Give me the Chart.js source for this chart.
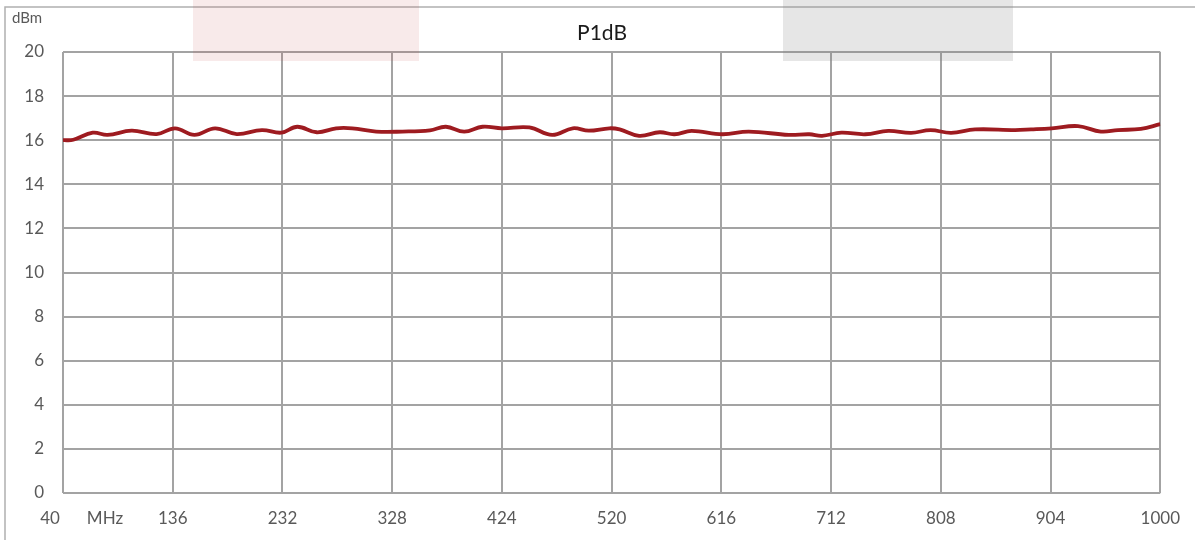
<!DOCTYPE html>
<html>
<head>
<meta charset="utf-8">
<script src="https://cdn.jsdelivr.net/npm/chart.js@4.4.0/dist/chart.umd.min.js"></script>
<style>
  html, body { margin: 0; padding: 0; background: #fff; }
  #wrap { width: 1195px; height: 540px; position: relative; }
</style>
</head>
<body>
<div id="wrap"><canvas id="chart" width="1195" height="540"></canvas></div>
<script>
// frecuencias (MHz) y P1dB (dBm)
const freqs = [40, 49, 66, 79, 100, 122, 138, 155, 173, 192, 214, 231, 245, 262, 279, 293,
  314, 337, 361, 375, 391, 407, 424, 448, 468, 486, 500, 518, 527, 544, 562, 575, 590,
  617, 640, 675, 693, 704, 721, 742, 762, 782, 799, 817, 838, 873, 887, 905, 928, 948,
  963, 983, 1000];
const p1db = [16.0, 16.02, 16.34, 16.24, 16.43, 16.28, 16.54, 16.24, 16.54, 16.28, 16.46, 16.34,
  16.61, 16.36, 16.54, 16.54, 16.39, 16.39, 16.45, 16.61, 16.39, 16.61, 16.54, 16.58, 16.24,
  16.54, 16.43, 16.54, 16.49, 16.2, 16.36, 16.27, 16.42, 16.27, 16.39, 16.24, 16.27, 16.2,
  16.34, 16.27, 16.42, 16.33, 16.46, 16.33, 16.49, 16.46, 16.49, 16.54, 16.64, 16.39, 16.46,
  16.51, 16.73];
const xTicks = [40, 136, 232, 328, 424, 520, 616, 712, 808, 904, 1000];

const FONT = "Lato, 'Open Sans', sans-serif";
const GRIS = "#595959";

const extras = {
  id: "extras",
  beforeDraw(chart) {
    const c = chart.ctx;
    c.save();
    c.strokeStyle = "#b0b0b0";
    c.lineWidth = 1.5;
    c.strokeRect(5, 7, 1200, 545);
    c.restore();
  },
  afterDraw(chart) {
    const c = chart.ctx;
    c.save();
    c.fillStyle = GRIS;
    c.font = "17px " + FONT;
    c.textBaseline = "middle";
    c.textAlign = "center";
    c.fillText("40", 50, 519);
    c.fillText("MHz", 105, 519);
    c.font = "15px " + FONT;
    c.textAlign = "left";
    c.fillText("dBm", 12, 18);
    // titulo
    c.fillStyle = "#1a1a1a";
    c.font = "21px " + FONT;
    c.textAlign = "center";
    c.fillText("P1dB", 602, 33);
    // recuadros claros de la parte superior
    c.fillStyle = "rgba(190,60,60,0.11)";
    c.fillRect(193, 0, 226, 61);
    c.fillStyle = "rgba(128,128,128,0.2)";
    c.fillRect(783, 0, 230, 61);
    c.restore();
  }
};

const ctx = document.getElementById("chart").getContext("2d");
new Chart(ctx, {
  type: "line",
  data: {
    datasets: [{
      label: "P1dB",
      data: freqs.map((f, i) => ({ x: f, y: p1db[i] })),
      borderColor: "#9e1b20",
      borderWidth: 3.8,
      pointRadius: 0,
      tension: 0.4,
      fill: false
    }]
  },
  options: {
    responsive: false,
    animation: false,
    layout: { padding: { left: 0, right: 30, top: 52, bottom: 0 } },
    plugins: {
      legend: { display: false },
      tooltip: { enabled: false },
      title: { display: false }
    },
    scales: {
      x: {
        type: "linear",
        min: 40,
        max: 1000,
        afterBuildTicks: (s) => { s.ticks = xTicks.map(v => ({ value: v })); },
        afterFit: (s) => { s.height = 47; },
        grid: { color: "#a3a3a3", lineWidth: 2, drawTicks: false },
        border: { display: false },
        ticks: {
          color: GRIS,
          font: { family: FONT, size: 17 },
          padding: 15,
          maxRotation: 0,
          autoSkip: false,
          callback: (v) => v === 40 ? "" : v
        }
      },
      y: {
        min: 0,
        max: 20,
        afterFit: (s) => { s.width = 63; },
        grid: { color: "#a3a3a3", lineWidth: 2, drawTicks: false },
        border: { display: false },
        ticks: {
          stepSize: 2,
          color: GRIS,
          font: { family: FONT, size: 17 },
          padding: 19
        }
      }
    }
  },
  plugins: [extras]
});
</script>
</body>
</html>
